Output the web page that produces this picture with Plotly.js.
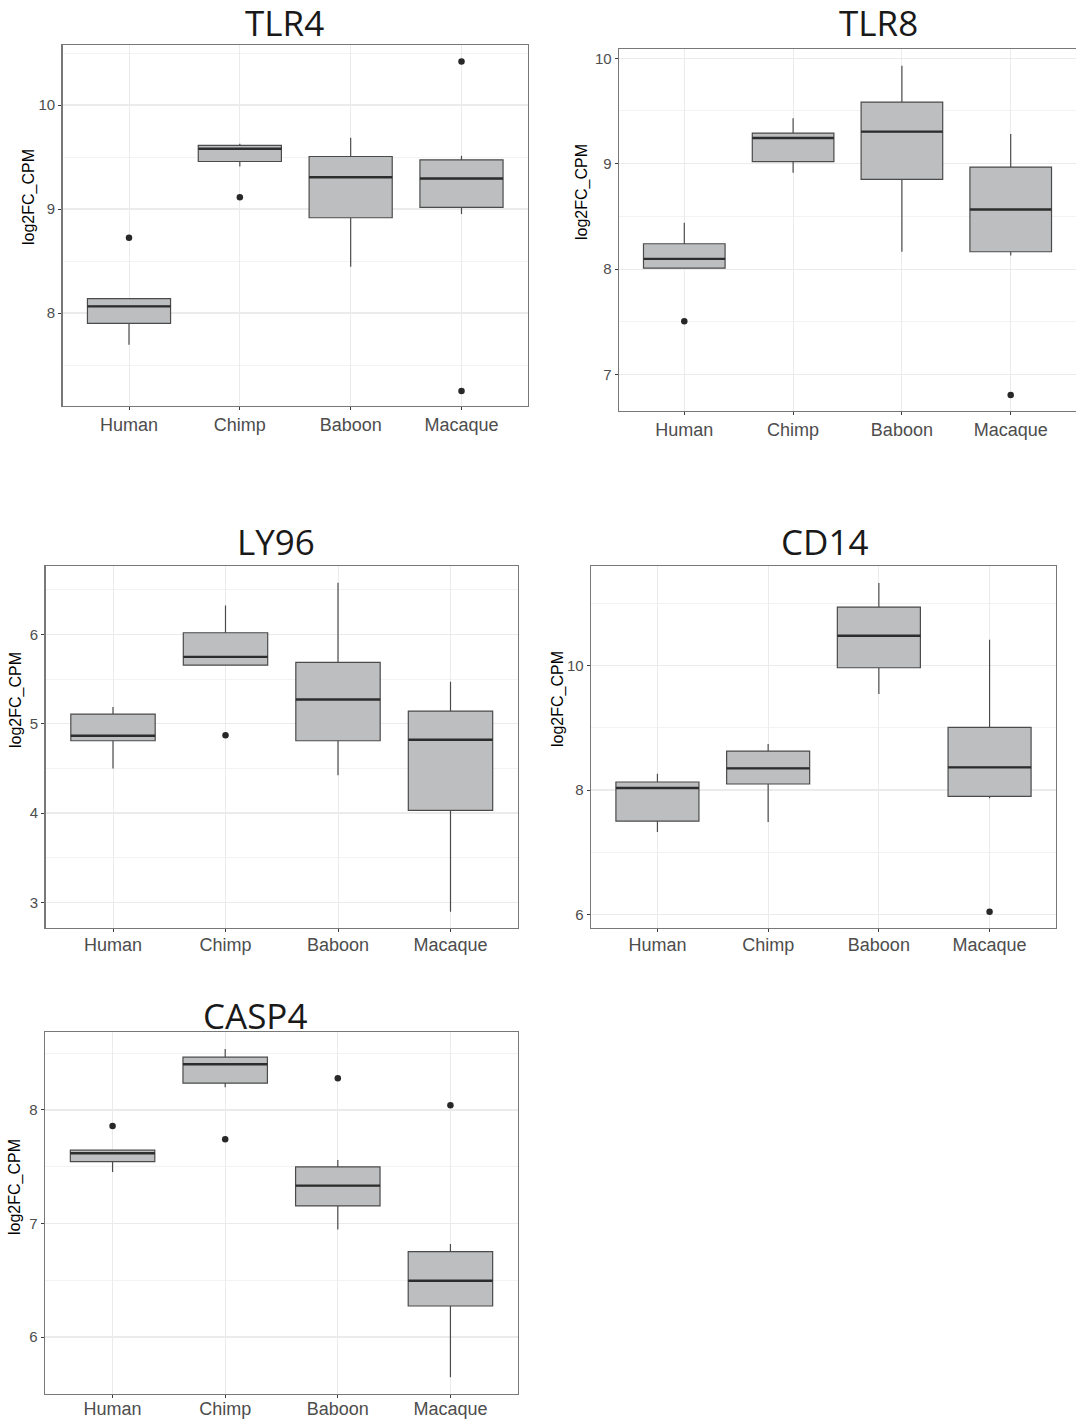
<!DOCTYPE html>
<html>
<head>
<meta charset="utf-8">
<script src="https://cdn.plot.ly/plotly-3.0.1.min.js"></script>
<style>
  html, body { margin: 0; padding: 0; background: #ffffff; }
  #chart { width: 1076px; height: 1420px; }
</style>
</head>
<body>
<div id="chart"></div>
<script>
// ---------------- Data ----------------
const species = ["Human", "Chimp", "Baboon", "Macaque"];
const genes = ["TLR4", "TLR8", "LY96", "CD14", "CASP4"];

const tlr4_q1  = [7.900, 9.457, 8.916, 9.016];
const tlr4_med = [8.064, 9.579, 9.305, 9.293];
const tlr4_q3  = [8.138, 9.611, 9.505, 9.473];
const tlr4_lo  = [7.695, 9.408, 8.444, 8.952];
const tlr4_hi  = [8.138, 9.627, 9.685, 9.511];
const tlr4_out_species = ["Human", "Chimp", "Macaque", "Macaque"];
const tlr4_out_values  = [8.723, 9.113, 10.418, 7.251];

const tlr8_q1  = [8.009, 9.019, 8.851, 8.165];
const tlr8_med = [8.098, 9.244, 9.304, 8.566];
const tlr8_q3  = [8.241, 9.291, 9.585, 8.968];
const tlr8_lo  = [8.009, 8.915, 8.165, 8.130];
const tlr8_hi  = [8.440, 9.430, 9.930, 9.282];
const tlr8_out_species = ["Human", "Macaque"];
const tlr8_out_values  = [7.506, 6.807];

const ly96_q1  = [4.809, 5.656, 4.809, 4.030];
const ly96_med = [4.865, 5.749, 5.271, 4.821];
const ly96_q3  = [5.108, 6.019, 5.686, 5.142];
const ly96_lo  = [4.499, 5.656, 4.424, 2.895];
const ly96_hi  = [5.187, 6.325, 6.580, 5.469];
const ly96_out_species = ["Chimp"];
const ly96_out_values  = [4.870];

const cd14_q1  = [7.501, 8.097, 9.968, 7.898];
const cd14_med = [8.032, 8.349, 10.483, 8.365];
const cd14_q3  = [8.129, 8.627, 10.944, 9.008];
const cd14_lo  = [7.324, 7.485, 9.544, 7.866];
const cd14_hi  = [8.263, 8.740, 11.330, 10.418];
const cd14_out_species = ["Macaque"];
const cd14_out_values  = [6.043];

const casp4_q1  = [7.545, 8.235, 7.154, 6.273];
const casp4_med = [7.618, 8.402, 7.333, 6.496];
const casp4_q3  = [7.645, 8.464, 7.498, 6.752];
const casp4_lo  = [7.454, 8.199, 6.947, 5.645];
const casp4_hi  = [7.645, 8.537, 7.559, 6.818];
const casp4_out_species = ["Human", "Chimp", "Baboon", "Macaque"];
const casp4_out_values  = [7.859, 7.742, 8.279, 8.041];

const tlr4_ticks  = [8, 9, 10];
const tlr8_ticks  = [7, 8, 9, 10];
const ly96_ticks  = [3, 4, 5, 6];
const cd14_ticks  = [6, 8, 10];
const casp4_ticks = [6, 7, 8];

const yLabel = "log2FC_CPM";

// ---------------- Layout geometry ----------------
const W = 1076, H = 1420;
const fx = p => p / W;
const fy = p => 1 - p / H;

const panels = [
  { q1: tlr4_q1, med: tlr4_med, q3: tlr4_q3, lo: tlr4_lo, hi: tlr4_hi,
    os: tlr4_out_species, ov: tlr4_out_values, ticks: tlr4_ticks, minor: 0.5,
    box: [62.5, 528, 45, 406], yr: [7.106, 10.577], xoff: -1,
    title: [284, 23], ylab: [29, 197] },
  { q1: tlr8_q1, med: tlr8_med, q3: tlr8_q3, lo: tlr8_lo, hi: tlr8_hi,
    os: tlr8_out_species, ov: tlr8_out_values, ticks: tlr8_ticks, minor: 0.5,
    box: [619, 1076, 49.3, 411], yr: [6.655, 10.085], xoff: -1,
    title: [878, 23], ylab: [582, 192] },
  { q1: ly96_q1, med: ly96_med, q3: ly96_q3, lo: ly96_lo, hi: ly96_hi,
    os: ly96_out_species, ov: ly96_out_values, ticks: ly96_ticks, minor: 0.5,
    box: [45.5, 518, 566.3, 928], yr: [2.712, 6.763], xoff: -3,
    title: [275.5, 541], ylab: [16, 700] },
  { q1: cd14_q1, med: cd14_med, q3: cd14_q3, lo: cd14_lo, hi: cd14_hi,
    os: cd14_out_species, ov: cd14_out_values, ticks: cd14_ticks, minor: 1,
    box: [591, 1056, 566.3, 928], yr: [5.78, 11.60], xoff: -3,
    title: [824, 541], ylab: [558, 699] },
  { q1: casp4_q1, med: casp4_med, q3: casp4_q3, lo: casp4_lo, hi: casp4_hi,
    os: casp4_out_species, ov: casp4_out_values, ticks: casp4_ticks, minor: 0.5,
    box: [45, 518, 1032, 1394], yr: [5.498, 8.686], xoff: -5,
    title: [255, 1015.5], ylab: [15, 1187] }
];

const boxFill = "rgb(189,190,191)";
const boxLine = "rgb(75,75,75)";
const medLine = "rgb(45,45,45)";
const borderCol = "rgb(120,120,120)";
const gridMajor = "rgb(235,235,235)";
const gridMinor = "rgb(243,243,243)";
const tickFontCol = "rgb(77,77,77)";
const tickFont = "Liberation Sans, Arial, sans-serif";

const xpos = species.map((s, i) => i);
const halfW = 0.375;

const traces = [];
const layout = {
  width: W, height: H,
  margin: { l: 0, r: 0, t: 0, b: 0 },
  paper_bgcolor: "#ffffff",
  plot_bgcolor: "#ffffff",
  showlegend: false,
  annotations: []
};

panels.forEach((p, k) => {
  const n = k + 1;
  const xa = n === 1 ? "x" : "x" + n;
  const ya = n === 1 ? "y" : "y" + n;
  const xk = n === 1 ? "xaxis" : "xaxis" + n;
  const yk = n === 1 ? "yaxis" : "yaxis" + n;

  traces.push({
    type: "box",
    x: xpos,
    q1: p.q1, median: p.med, q3: p.q3,
    lowerfence: p.lo, upperfence: p.hi,
    width: 0.75,
    whiskerwidth: 0,
    boxpoints: false,
    fillcolor: boxFill,
    line: { color: boxLine, width: 1.2 },
    xaxis: xa, yaxis: ya,
    hoverinfo: "skip"
  });

  // thicker median segments (ggplot style)
  const mx = [], my = [];
  p.med.forEach((m, i) => {
    mx.push(xpos[i] - halfW, xpos[i] + halfW, null);
    my.push(m, m, null);
  });
  traces.push({
    type: "scatter", mode: "lines",
    x: mx, y: my,
    line: { color: medLine, width: 2.4 },
    xaxis: xa, yaxis: ya, hoverinfo: "skip"
  });

  // outliers
  traces.push({
    type: "scatter", mode: "markers",
    x: p.os.map(s => species.indexOf(s)),
    y: p.ov,
    marker: { color: "rgb(40,40,40)", size: 6.5 },
    xaxis: xa, yaxis: ya, hoverinfo: "skip", cliponaxis: false
  });

  layout[xk] = {
    domain: [fx(p.box[0]), fx(p.box[1])],
    anchor: ya,
    range: [-0.6, 3.6],
    tickmode: "array",
    tickvals: xpos,
    ticktext: species,
    showgrid: true, gridcolor: gridMajor, gridwidth: 1,
    zeroline: false,
    showline: true, mirror: true, linecolor: borderCol, linewidth: 1.4,
    ticks: "outside", ticklen: 3, tickwidth: 1, tickcolor: "rgb(60,60,60)",
    ticklabelstandoff: p.xoff,
    tickfont: { family: tickFont, size: 18, color: tickFontCol },
    fixedrange: true
  };
  layout[yk] = {
    domain: [fy(p.box[3]), fy(p.box[2])],
    anchor: xa,
    range: p.yr,
    tickmode: "array",
    tickvals: p.ticks,
    ticktext: p.ticks.map(String),
    showgrid: true, gridcolor: gridMajor, gridwidth: 1.2,
    minor: { dtick: p.minor, tick0: 0, showgrid: true, gridcolor: gridMinor, gridwidth: 1 },
    zeroline: false,
    showline: true, mirror: true, linecolor: borderCol, linewidth: 1.4,
    ticks: "outside", ticklen: 3, tickwidth: 1, tickcolor: "rgb(60,60,60)",
    tickfont: { family: tickFont, size: 15, color: tickFontCol },
    fixedrange: true
  };

  layout.annotations.push({
    text: genes[k],
    xref: "paper", yref: "paper",
    x: fx(p.title[0]), y: fy(p.title[1]),
    xanchor: "center", yanchor: "middle",
    showarrow: false,
    font: { family: "Open Sans, Noto Sans, sans-serif", size: 35, color: "rgb(25,25,25)" }
  });
  layout.annotations.push({
    text: yLabel,
    xref: "paper", yref: "paper",
    x: fx(p.ylab[0]), y: fy(p.ylab[1]),
    xanchor: "center", yanchor: "middle",
    textangle: -90,
    showarrow: false,
    font: { family: tickFont, size: 16, color: "rgb(0,0,0)" }
  });
});

Plotly.newPlot("chart", traces, layout, { displayModeBar: false, staticPlot: true });
</script>
</body>
</html>
